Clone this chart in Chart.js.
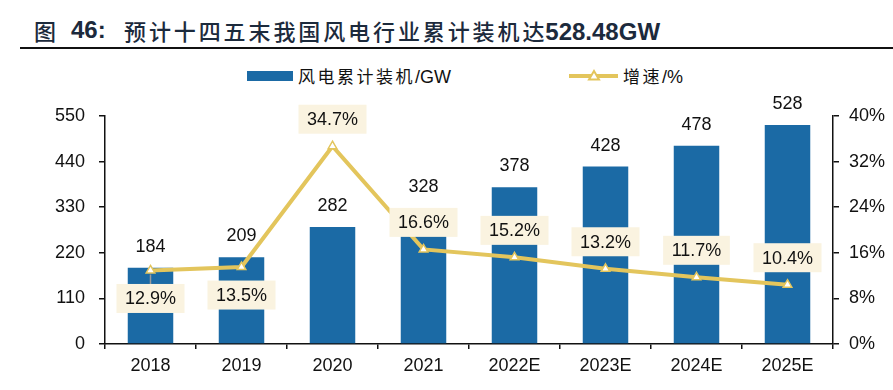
<!DOCTYPE html>
<html>
<head>
<meta charset="utf-8">
<script src="https://cdn.jsdelivr.net/npm/chart.js@4/dist/chart.umd.min.js"></script>
<style>
  html, body { margin: 0; padding: 0; background: #fff; }
  #wrap { position: relative; width: 893px; height: 390px; overflow: hidden; font-family: "Liberation Sans", "Noto Sans CJK SC", sans-serif; }
  .t { position: absolute; top: 15px; line-height: 30px; color: #1C2A3C; white-space: nowrap; }
  .cjk { font-family: "Noto Sans CJK SC", sans-serif; font-size: 22px; font-weight: 500; }
  .lat { font-family: "Liberation Sans", Arial, sans-serif; font-size: 24px; font-weight: bold; }
  #rule { position: absolute; left: 20px; right: 0; top: 47px; height: 2px; background: #111; }
  .lg { position: absolute; font-size: 17px; color: #111; white-space: nowrap; line-height: 20px; }
  .lg .c { font-family: "Noto Sans CJK SC", sans-serif; letter-spacing: 2.5px; }
  .lg .l { font-family: "Liberation Sans", Arial, sans-serif; font-size: 18px; }
  #c { position: absolute; left: 0; top: 0; }
</style>
</head>
<body>
<div id="wrap">
  <div class="t cjk" style="left:34px">图</div>
  <div class="t lat" style="left:71px">46:</div>
  <div class="t" style="left:124px"><span class="cjk" style="letter-spacing:2.9px">预计十四五末我国风电行业累计装机达</span><span class="lat" style="margin-left:-2px">528.48GW</span></div>
  <div id="rule"></div>
  <div style="position:absolute;left:247px;top:71px;width:46px;height:10px;background:#1B6AA5"></div>
  <div class="lg" style="left:298px;top:66px"><span class="c">风电累计装机</span><span class="l">/GW</span></div>
  <svg style="position:absolute;left:567px;top:68px" width="54" height="16">
    <line x1="2" y1="8" x2="51" y2="8" stroke="#E3C55C" stroke-width="4"/>
    <polygon points="27,3 32,11.5 22,11.5" fill="#fff" stroke="#E3C55C" stroke-width="2"/>
  </svg>
  <div class="lg" style="left:623px;top:66px"><span class="c">增速</span><span class="l">/%</span></div>
  <canvas id="c" width="893" height="390"></canvas>
</div>
<script>
const categories = ['2018', '2019', '2020', '2021', '2022E', '2023E', '2024E', '2025E'];
const capacityGW = [184, 209, 282, 328, 378, 428, 478, 528];
const growthPct = [12.9, 13.5, 34.7, 16.6, 15.2, 13.2, 11.7, 10.4];
const leftAxisMax = 550, leftAxisStep = 110;
const rightAxisMax = 40, rightAxisStep = 8;

const BLUE = '#1B6AA5';
const GOLD = '#E3C55C';
const BOX = '#FAF3E0';
const FONT = '"Liberation Sans", Arial, sans-serif';

const labelPlugin = {
  id: 'valueLabels',
  afterDatasetsDraw(chart) {
    const ctx = chart.ctx;
    const lineMeta = chart.getDatasetMeta(0);
    const barMeta = chart.getDatasetMeta(1);
    ctx.save();
    ctx.font = '18px ' + FONT;
    ctx.textAlign = 'center';
    ctx.textBaseline = 'middle';
    barMeta.data.forEach((el, i) => {
      ctx.fillStyle = '#111';
      ctx.fillText(String(chart.data.datasets[1].data[i]), el.x, el.y - 21);
    });
    lineMeta.data.forEach((el, i) => {
      const v = chart.data.datasets[0].data[i];
      const txt = v.toFixed(1) + '%';
      const below = i < 2;
      const cy = below ? el.y + 28 : el.y - 27;
      const w = ctx.measureText(txt).width + 17;
      const h = 29;
      if (i === 0) {
        ctx.strokeStyle = '#9a9a9a';
        ctx.lineWidth = 1.5;
        ctx.beginPath();
        ctx.moveTo(el.x, el.y + 4);
        ctx.lineTo(el.x, cy - h / 2);
        ctx.stroke();
      }
      ctx.fillStyle = BOX;
      ctx.fillRect(el.x - w / 2, cy - h / 2, w, h);
      ctx.fillStyle = '#111';
      ctx.fillText(txt, el.x, cy + 1);
    });
    ctx.restore();
  }
};

new Chart(document.getElementById('c'), {
  type: 'bar',
  data: {
    labels: categories,
    datasets: [
      {
        type: 'line',
        label: '增速/%',
        data: growthPct,
        yAxisID: 'y1',
        borderColor: GOLD,
        borderWidth: 4,
        tension: 0,
        pointStyle: 'triangle',
        pointRadius: 5,
        pointBackgroundColor: '#fff',
        pointBorderColor: GOLD,
        pointBorderWidth: 1.5,
        order: 0
      },
      {
        type: 'bar',
        label: '风电累计装机/GW',
        data: capacityGW,
        yAxisID: 'y',
        backgroundColor: BLUE,
        categoryPercentage: 1,
        barPercentage: 0.5,
        order: 1
      }
    ]
  },
  options: {
    responsive: false,
    animation: false,
    layout: { padding: { top: 116, left: 0, right: 0, bottom: 0 } },
    plugins: { legend: { display: false }, tooltip: { enabled: false } },
    scales: {
      x: {
        afterFit: s => { s.height = 46; },
        grid: { drawOnChartArea: false, drawTicks: true, tickLength: 5, color: '#111', lineWidth: 1.5, offset: true },
        border: { display: true, color: '#111', width: 1.5 },
        ticks: { color: '#111', font: { family: FONT, size: 18 }, padding: 6 }
      },
      y: {
        position: 'left',
        min: 0, max: leftAxisMax,
        afterFit: s => { s.width = 105; },
        grid: { drawOnChartArea: false, drawTicks: true, tickLength: 6, color: '#111', lineWidth: 1.5 },
        border: { display: true, color: '#111', width: 1.5 },
        ticks: { stepSize: leftAxisStep, color: '#111', font: { family: FONT, size: 18 }, padding: 14 }
      },
      y1: {
        position: 'right',
        min: 0, max: rightAxisMax,
        afterFit: s => { s.width = 60; },
        grid: { drawOnChartArea: false, drawTicks: true, tickLength: 6, color: '#111', lineWidth: 1.5 },
        border: { display: true, color: '#111', width: 1.5 },
        ticks: { stepSize: rightAxisStep, color: '#111', font: { family: FONT, size: 18 }, padding: 10, callback: v => v + '%' }
      }
    }
  },
  plugins: [labelPlugin]
});
</script>
</body>
</html>
